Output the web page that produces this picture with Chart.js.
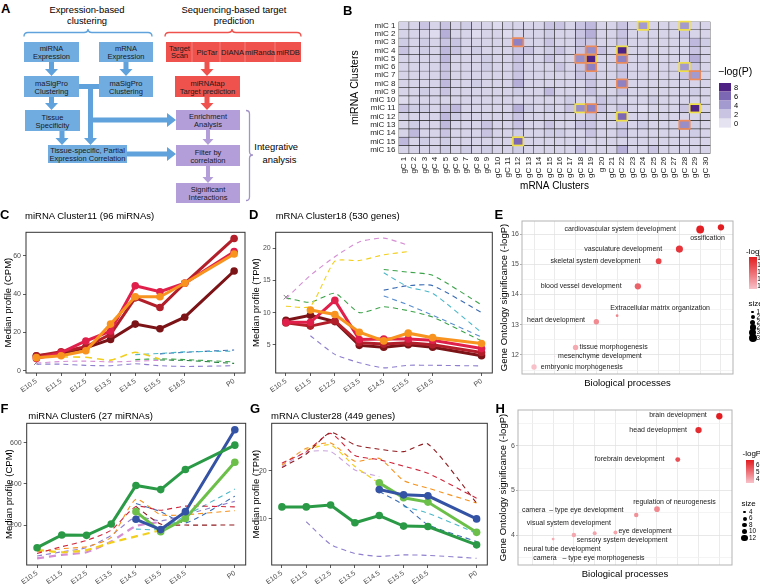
<!DOCTYPE html>
<html><head><meta charset="utf-8"><title>miRNA–mRNA integrative analysis</title>
<script src="https://cdn.jsdelivr.net/npm/chart.js@4.4.1/dist/chart.umd.min.js"></script>
<style>
html,body{margin:0;padding:0;background:#fff;}
#wrap{position:relative;width:760px;height:584px;overflow:hidden;background:#fff;font-family:'Liberation Sans',Arial,sans-serif;}
#wrap canvas{position:absolute;}
.t{position:absolute;white-space:pre;line-height:1;color:#000;}
#flow{position:absolute;left:0;top:0;}
.sw{position:absolute;}
</style></head>
<body><div id="wrap">
<svg id="flow" width="340" height="210" viewBox="0 0 340 210" font-family="Liberation Sans, Arial, sans-serif"></svg>
<canvas id="cB" width="420" height="200" style="left:340px;top:0px"></canvas>
<canvas id="cC" width="250" height="195" style="left:0px;top:200px"></canvas>
<canvas id="cD" width="250" height="195" style="left:250px;top:200px"></canvas>
<canvas id="cE" width="263" height="195" style="left:497px;top:200px"></canvas>
<canvas id="cF" width="250" height="189" style="left:0px;top:395px"></canvas>
<canvas id="cG" width="250" height="189" style="left:250px;top:395px"></canvas>
<canvas id="cH" width="263" height="189" style="left:497px;top:395px"></canvas>
</div>
<script>
// ================= DATA =================
const timeLabels = ['E10.5','E11.5','E12.5','E13.5','E14.5','E15.5','E16.5','P0'];
const timePos = [0,1,2,3,4,5,6,8];

// ---- Panel B: heatmap of -log(P)
const miRNAClusters = ['miC 1','miC 2','miC 3','miC 4','miC 5','miC 6','miC 7','miC 8','miC 9','miC 10','miC 11','miC 12','miC 13','miC 14','miC 15','miC 16'];
const mRNAClusters = ['gC 1','gC 2','gC 3','gC 4','gC 5','gC 6','gC 7','gC 8','gC 9','gC 10','gC 11','gC 12','gC 13','gC 14','gC 15','gC 16','gC 17','gC 18','gC 19','g 20','gC 21','gC 22','gC 23','gC 24','gC 25','gC 26','gC 27','gC 28','gC 29','gC 30'];
const heatLogP = [
 [1,1,2,1,2, 1,1.5,1,1,0.5, 1,1,1,1,2, 2,1,2,2.5,1, 1,2,1,4,1, 1,1,4,1,1],
 [1,1,1,0.5,3, 1,1,0.5,1,1, 0.5,1,1,1,1.5, 1,1,2,3,1, 1,2,1,1,1, 1,1,2,1,1],
 [1.5,1,1.5,1,2, 2,1,1,1,1, 1,5,1,1,2, 1,1,2,2,1, 1,2,1,1,1, 1,1,1,2.5,1.5],
 [2,1,1.5,1,2.5, 2,1,1.5,1,1, 1,2,2,1,1.5, 2,1,2,4.5,2, 1,8,1,1,1, 1,1,1,2,1],
 [1,1,1,1,2.5, 1,1,1,1.5,1, 1,2,1,1,2, 1,1,4.5,8,1, 1,5,1,1,1, 1,1,1,3,1],
 [1,1,1,1,2, 1,1,1,1.5,1, 1,2,1,1,1, 2,1,2,5,1, 1,2,1,1,1, 1,1,4,2,1],
 [1,1,1,1,2, 1,1,1,1,1, 1,2,1,1,1, 1,1,2,2,1, 1,2,1,1,1, 1,1,2,4,1],
 [1,1,1,1,2.5, 1,1,1.5,1,1, 1,3,1,1,1, 1,1,1,2,1, 1,5,1,1,1, 1,1,1,1,1],
 [1,1,1.5,1,2, 1,1,1,1,1, 1,1.5,1,1,2.5, 1,1,1,2,1, 1,2,1,1,1, 1,1,1,1.5,1],
 [0.5,1,1,1,1, 1,1,1,1,1, 1,1,1,1,1, 1,1.5,1,1,2, 1.5,1,1,1,1.5, 1,1,1,1,1],
 [2,1.5,1.5,1,2, 2.5,1,1,1,1, 1,3,1.5,1,1.5, 1,2,4.5,5,2, 1,2,1,0.5,1, 1,1,2,8,1],
 [1,1,1,1,2.5, 1.5,1,1,1,1, 1,2,1,1,1, 1,1,1,2,1, 1,6,1,1,1, 1,1,1,1,1],
 [1,1.5,1,1,2.5, 1,1,1,2,1, 1,2,1,1,2, 1,1,2,2,1, 1,2,1,1.5,1, 1,1,4.5,1.5,1],
 [1,2.5,1,1,2, 1,1,1,2,1, 1,1.5,1,1,1.5, 1.5,1,1,2,1, 1,2,1,1,1, 1,1,1,1.5,1],
 [2.5,1,1.5,1,1.5, 1,1,1,1,1, 1,6,1,1,1, 1,1,1,1,1, 1,1,1,1,1, 1,1,1,1,1],
 [1,1,1,1,1.5, 1,1.5,1,1.5,1, 1,1.5,1,1,1, 1,1,2,1,1, 1,3,1,1,2, 1,1,1,1,1]
];
const sigYellow = [[0,23],[0,27],[3,21],[4,18],[5,27],[10,17],[10,28],[11,21],[14,11]]; // [row, col]
const sigOrange = [[2,11],[3,18],[4,17],[4,21],[5,18],[6,28],[7,21],[10,18],[12,27]];
const heatLegendTicks = [8,6,4,2,0];

// ---- Panel C: miRNA Cluster11
const cTicks = [0,20,40,60];
const cOrange  = [6.8, 7.8, 10.4, 24.3, 38.6, 38.6, 45.6, 60.9];
const cCrimson = [6.4, 9.4, 15.5, 20.7, 44.3, 41.2, 45.6, 62.1];
const cDarkRed = [7.7, 9.9, 12.5, 19.0, 38.0, 33.0, 45.6, 69.0];
const cDarkest = [7.8, 9.0, 12.0, 16.3, 24.3, 21.9, 27.9, 52.0];
const cDashYellow = [null, 7.2, 7.0, 5.5, 9.6, 6.0, null, null];
const cDashTeal   = [null, null, null, null, 8.4, 9.0, 9.8, 10.2];
const cDashBlue   = [null, null, null, null, null, 8.8, 9.6, 10.8];
const cDashGreen  = [null, null, null, null, 5.8, 6.2, 5.8, 4.6];
const cDashDkGreen= [null, null, null, null, null, 5.6, 5.4, 3.8];
const cDashPink   = [4.0, 4.8, 5.0, 4.6, 5.0, 5.4, null, null];
const cDashPurple = [3.4, 3.4, 2.8, 2.6, 3.6, 2.6, 2.2, 2.6];
const cCross = 4.2;

// ---- Panel D: mRNA Cluster18
const dTicks = [5,10,15,20];
const dOrange  = [null, 10.4, 9.7, 6.95, 5.6, 6.8, 6.1, 5.2];
const dCrimson = [8.5, 8.5, 11.9, 5.8, 5.9, 5.9, 5.7, 4.4];
const dDarkRed = [8.4, 7.9, 8.7, 5.3, 5.1, 5.3, 5.0, 3.8];
const dDarkest = [8.8, 9.6, 8.6, 4.9, 4.6, 5.0, 4.6, 3.3];
const dDashPink   = [12.2, 15.8, 18.7, 21.0, 21.6, 20.5, null, null];
const dDashYellow = [11.0, 11.0, 18.0, 18.1, 19.0, 19.5, null, null];
const dDashGreen  = [12.3, 11.6, 13.0, 10.0, 10.9, 10.3, 9.3, 5.6];
const dDashGreen2 = [null, null, null, null, 16.7, 16.3, 15.8, 11.2];
const dDashTeal   = [null, null, null, null, 16.2, 14.0, 13.0, 6.9];
const dDashBlue   = [null, null, null, null, 13.5, 14.2, 14.2, 10.0];
const dDashBlue2  = [null, null, null, null, 12.6, 11.2, 9.6, 6.2];
const dDashLav    = [null, 6.4, 3.5, 2.2, 1.4, 1.8, 1.8, 1.7];
const dCross = 12.4;

// ---- Panel E: GO terms for mRNA Cluster18
const eTerms = ['embryonic morphogenesis','mesenchyme development','tissue morphogenesis','heart development','Extracellular matrix organization','blood vessel development','skeletal system development','vasculature development','cardiovascular system development','ossification'];
const eLogP = [11.6, 11.95, 12.25, 13.1, 13.3, 14.27, 15.1, 15.5, 16.15, 16.22];
const eSize = [24, 16, 24, 24, 18, 27, 25, 30, 33, 27];
const eTicks = [12,13,14,15,16];
const eColorTicks = [16,15,14,13,12];
const eSizeTicks = [18,21,24,27,30,33];

// ---- Panel F: miRNA Cluster6
const fTicks = [200,400,600];
const fDkGreen = [90, 152, 150, 205, 392, 372, 470, 588];
const fBlue    = [null, null, null, null, 228, 178, 265, 663];
const fLtGreen = [null, null, null, null, 265, 168, 232, 505];
const fDashRed    = [62, 95, 125, 175, 290, 272, 292, 288];
const fDashDkRed  = [null, null, null, null, 290, 205, 200, 200];
const fDashOrange = [70, 85, 95, 140, 325, 250, 250, 270];
const fDashYellow = [80, 68, 78, 115, 145, 175, null, null];
const fDashPink   = [38, 55, 68, 120, 195, 215, null, null];
const fDashPurple = [50, 70, 90, 150, 240, 220, 250, 315];
const fDashTeal   = [null, null, null, null, 180, 180, 245, 375];
const fDashBlue   = [null, null, null, null, 305, 265, 210, 340];

// ---- Panel G: mRNA Cluster28
const gTicks = [10,20];
const gDkGreen = [12.5, 12.5, 12.9, 9.2, 10.7, 8.5, 8.4, 4.6];
const gBlue    = [null, null, null, null, 16.1, 15.0, 14.8, 10.0];
const gLtGreen = [null, null, null, null, 17.5, 14.4, 13.5, 7.2];
const gDashDkRed  = [20.7, 23.5, 28.0, 25.4, 24.5, 24.0, 25.6, 13.3];
const gDashRed    = [21.6, 24.0, 27.8, 23.2, 22.3, 21.0, 19.5, 14.3];
const gDashOrange = [21.2, 24.7, 25.8, 22.0, 22.6, 18.0, 16.4, 13.3];
const gDashYellow = [null, 24.4, 25.4, 20.9, 17.4, null, null, null];
const gDashLilac  = [20.9, 23.9, 24.0, 20.2, 18.8, null, null, null];
const gDashBlue   = [null, null, null, null, 15.7, 12.9, 8.8, 5.3];
const gDashTeal   = [null, null, null, null, null, 12.6, 11.2, 7.0];
const gDashLav    = [null, 9.4, 4.7, 2.8, 2.2, 2.5, 2.4, 1.8];

// ---- Panel H: GO terms for mRNA Cluster28
const hTerms = ['camera   \u2013 type eye morphogenesis','neural tube development','visual system development','sensory system development','eye development','camera  \u2013 type eye development','regulation of neurogenesis','forebrain development','head development','brain development'];
const hLogP = [3.48, 3.91, 4.0, 4.04, 4.06, 4.45, 4.58, 5.69, 6.35, 6.66];
const hSize = [2, 4, 7, 6, 6, 7, 10, 8, 12, 12];
const hTicks = [4,5,6];
const hColorTicks = [6,5,4];
const hSizeTicks = [4,6,8,10,12];

// ================= STYLE HELPERS =================
const FONT = "'Liberation Sans', Arial, sans-serif";
Chart.defaults.font.family = FONT;
Chart.defaults.color = '#333';
const BASE = {responsive:false, animation:false, devicePixelRatio:1, events:[]};
const C = {crimson:'#e0204b', darkred:'#b21f2a', darkest:'#7c1417', orange:'#f7931e',
  dkgreen:'#2b9a46', blue:'#3453a5', ltgreen:'#6cc04a',
  dYellow:'#f2cf1d', dTeal:'#4bb8c9', dBlue:'#3c6db4', dGreen:'#3ca34a', dDkGreen:'#1f7a3a',
  dPink:'#d58ed4', dPurple:'#8f7fce', dRed:'#d0253a', dDkRed:'#8f1b1f', dOrange:'#f6921e'};

function mix(a, b, t){ return 'rgb(' + a.map((c,k)=>Math.round(c + (b[k]-c)*t)).join(',') + ')'; }
const heatStops = [[0,[229,227,242]],[2,[200,196,226]],[4,[163,155,207]],[6,[124,103,180]],[8,[78,33,132]]];
function heatColor(v){
  v = Math.max(0, Math.min(8, v));
  for (let i = 1; i < heatStops.length; i++) {
    if (v <= heatStops[i][0]) { const [a,ca] = heatStops[i-1], [b,cb] = heatStops[i]; return mix(ca, cb, (v-a)/(b-a)); }
  }
}
const PINK = [248,196,204], RED = [226,26,30];
const eColor = v => mix(PINK, RED, Math.max(0, Math.min(1, (v-11.5)/(16.3-11.5))));
const hColor = v => mix(PINK, RED, Math.max(0, Math.min(1, (v-3.45)/(6.7-3.45))));
const eRadius = s => Math.sqrt(Math.max(s-16, 0.15)) * 0.95;
const hRadius = s => Math.sqrt(Math.max(s-2, 0.1)) * 1.0;

const framePlugin = {id:'frame', beforeDatasetsDraw(chart, args, o){
  if (!o || !o.color) return;
  const a = chart.chartArea, c = chart.ctx;
  c.save(); c.strokeStyle = o.color; c.lineWidth = o.width || 1;
  c.strokeRect(a.left, a.top, a.right - a.left, a.bottom - a.top);
  c.restore();
}};

function toXY(vals){ return timePos.map((x,i)=>({x:x, y:vals[i]})); }

function lineChart(id, cfg){
  const ds = [];
  cfg.solid.forEach(s => ds.push({data:toXY(s.v), borderColor:s.c, backgroundColor:s.c, borderWidth:3,
    pointRadius:3.8, pointBackgroundColor:s.c, pointBorderWidth:0, tension:0, order:1}));
  cfg.dashed.forEach(s => ds.push({data:toXY(s.v), borderColor:s.c, borderWidth:s.w || 1.1,
    borderDash:(s.w||1.1) > 1.5 ? [7,5] : [5,4], pointRadius:0, tension:0.2, order:2}));
  if (cfg.cross !== undefined) ds.push({data:[{x:timePos[0], y:cfg.cross}], showLine:false, pointStyle:'crossRot',
    pointRadius:3.2, borderColor:'#808080', backgroundColor:'#808080', borderWidth:1, order:3});
  new Chart(document.getElementById(id), {type:'line', data:{datasets:ds}, plugins:[framePlugin], options:{...BASE,
    layout:{padding:cfg.pad},
    plugins:{legend:{display:false}, tooltip:{enabled:false}, frame:{color:'#333', width:1}},
    scales:{
      x:{type:'linear', min:-0.42, max:8.44,
        afterBuildTicks:s=>{ s.ticks = timePos.map(v=>({value:v})); },
        afterFit:s=>{ s.height = cfg.xh; },
        ticks:{callback:(v,i)=>timeLabels[i], autoSkip:false, minRotation:35, maxRotation:35, font:{size:7}, color:'#4d4d4d', padding:1},
        grid:{drawOnChartArea:false, tickLength:3, color:'#333', lineWidth:0.8}, border:{display:false}},
      y:{type:'linear', min:cfg.ymin, max:cfg.ymax,
        afterBuildTicks:s=>{ s.ticks = cfg.yticks.map(v=>({value:v})); },
        afterFit:s=>{ s.width = cfg.yw; },
        ticks:{font:{size:7}, color:'#4d4d4d', padding:2},
        grid:{drawOnChartArea:false, tickLength:3, color:'#333', lineWidth:0.8}, border:{display:false},
        title:{display:true, text:cfg.ytitle, color:'#000', font:{size:9.5}, padding:{top:cfg.ytp, bottom:0}}}
    }}});
}

function goChart(id, cfg){
  const labelPlugin = {id:'goLabels', afterDatasetsDraw(chart){
    const meta = chart.getDatasetMeta(0), c = chart.ctx;
    c.save(); c.font = '7px ' + FONT; c.fillStyle = '#222'; c.textBaseline = 'middle';
    meta.data.forEach((el,i)=>{ const p = cfg.place[i]; c.textAlign = p.a; c.fillText(cfg.terms[i], el.x + p.dx, el.y + p.dy); });
    c.restore();
  }};
  new Chart(document.getElementById(id), {type:'bubble',
    data:{datasets:[{data:cfg.terms.map((t,i)=>({x:i+1, y:cfg.logp[i], r:cfg.rFn(cfg.size[i])})),
      backgroundColor:cfg.logp.map(cfg.colFn), borderWidth:0}]},
    plugins:[framePlugin, labelPlugin],
    options:{...BASE, layout:{padding:cfg.pad},
      plugins:{legend:{display:false}, tooltip:{enabled:false}, frame:{color:'#b3b3b3', width:1}},
      scales:{
        x:{type:'linear', min:cfg.xmin, max:cfg.xmax,
          afterBuildTicks:s=>{ s.ticks = cfg.terms.map((t,i)=>({value:i+1})); },
          afterFit:s=>{ s.height = cfg.xh; },
          ticks:{display:false}, grid:{color:'#e6e6e6', drawTicks:false, lineWidth:0.8}, border:{display:false},
          title:{display:true, text:'Biological processes', color:'#000', font:{size:9.5}, padding:{top:0, bottom:cfg.xtp}}},
        y:{type:'linear', min:cfg.ymin, max:cfg.ymax,
          afterBuildTicks:s=>{ const t=[]; cfg.yticks.forEach(v=>{ t.push({value:v-0.5}); t.push({value:v}); }); t.push({value:cfg.yticks[cfg.yticks.length-1]+0.5}); s.ticks = t.filter(o=>o.value>cfg.ymin && o.value<cfg.ymax); },
          afterFit:s=>{ s.width = cfg.yw; },
          ticks:{callback:v=>cfg.yticks.includes(v) ? String(v) : '', font:{size:7}, color:'#4d4d4d', padding:1, autoSkip:false},
          grid:{color:ctx=>(ctx.tick && cfg.yticks.includes(ctx.tick.value)) ? '#e2e2e2' : '#f1f1f1',
                tickColor:ctx=>(ctx.tick && cfg.yticks.includes(ctx.tick.value)) ? '#999' : 'rgba(0,0,0,0)', tickLength:2, lineWidth:0.8},
          border:{display:false},
          title:{display:true, text:'Gene Ontology significance (-logP)', color:'#000', font:{size:9.5}, padding:{top:cfg.ytp, bottom:0}}}
      }}});
}

// ================= PANEL B =================
const hlPlugin = {id:'hl', afterDatasetsDraw(chart){
  const c = chart.ctx; c.save(); c.lineWidth = 1.7;
  [[sigYellow,'#f0df48'],[sigOrange,'#ec8b5c']].forEach(([list,col])=>{
    c.strokeStyle = col;
    list.forEach(([r,j])=>{
      const p = chart.getDatasetMeta(j).data[r].getProps(['x','y','base','height'], true);
      const l = Math.min(p.x, p.base), w = Math.abs(p.x - p.base);
      c.strokeRect(l, p.y - p.height/2, w, p.height);
    });
  });
  c.restore();
}};
new Chart(document.getElementById('cB'), {type:'bar',
  data:{labels:miRNAClusters, datasets:mRNAClusters.map((lab,j)=>({label:lab, data:miRNAClusters.map(()=>1),
    backgroundColor:heatLogP.map(r=>heatColor(r[j])), borderColor:'#1e1e1e', borderWidth:0.55, borderSkipped:false,
    barPercentage:1, categoryPercentage:1}))},
  plugins:[hlPlugin],
  options:{...BASE, indexAxis:'y', layout:{padding:{top:21.6, right:49.5, left:0, bottom:0}},
    plugins:{legend:{display:false}, tooltip:{enabled:false}},
    scales:{
      x:{type:'linear', stacked:true, min:0, max:30,
        afterBuildTicks:s=>{ s.ticks = mRNAClusters.map((l,i)=>({value:i+0.5})); },
        afterFit:s=>{ s.height = 46.3; },
        ticks:{callback:(v,i)=>mRNAClusters[i], autoSkip:false, minRotation:90, maxRotation:90, font:{size:8}, color:'#222', padding:3},
        grid:{display:false, drawTicks:false}, border:{display:false},
        title:{display:true, text:'mRNA Clusters', color:'#000', font:{size:10}, padding:{top:0, bottom:8}}},
      y:{type:'category', stacked:true, afterFit:s=>{ s.width = 58.5; },
        ticks:{font:{size:8}, color:'#222', padding:3, autoSkip:false},
        grid:{display:false, drawTicks:false}, border:{display:false},
        title:{display:true, text:'miRNA Clusters', color:'#000', font:{size:10.5}, padding:{top:9, bottom:0}}}
    }}});

// ================= LINE PANELS =================
lineChart('cC', {pad:{top:32.3, right:4.3, left:0, bottom:0}, xh:22, yw:26, ymin:-1.2, ymax:72.2, yticks:cTicks,
  ytitle:'Median profile (CPM)', ytp:2.3, cross:cCross,
  solid:[{v:cOrange,c:C.orange},{v:cCrimson,c:C.crimson},{v:cDarkRed,c:C.darkred},{v:cDarkest,c:C.darkest}],
  dashed:[{v:cDashYellow,c:C.dYellow,w:1.6},{v:cDashTeal,c:C.dTeal},{v:cDashBlue,c:C.dBlue},{v:cDashGreen,c:C.dGreen},
    {v:cDashDkGreen,c:C.dDkGreen},{v:cDashPink,c:C.dPink},{v:cDashPurple,c:C.dPurple}]});

lineChart('cD', {pad:{top:32.3, right:7.7, left:0, bottom:0}, xh:22, yw:25.7, ymin:0.6, ymax:22.5, yticks:dTicks,
  ytitle:'Median profile (TPM)', ytp:0.3, cross:dCross,
  solid:[{v:dOrange,c:C.orange},{v:dCrimson,c:C.crimson},{v:dDarkRed,c:C.darkred},{v:dDarkest,c:C.darkest}],
  dashed:[{v:dDashPink,c:C.dPink},{v:dDashYellow,c:C.dYellow},{v:dDashGreen,c:C.dGreen},{v:dDashGreen2,c:C.dGreen},
    {v:dDashTeal,c:C.dTeal},{v:dDashBlue,c:C.dBlue},{v:dDashBlue2,c:'#5a8fd0'},{v:dDashLav,c:C.dPurple}]});

lineChart('cF', {pad:{top:28.3, right:4.3, left:0, bottom:0}, xh:19, yw:26.7, ymin:6, ymax:694, yticks:fTicks,
  ytitle:'Median profile (CPM)', ytp:3.3,
  solid:[{v:fDkGreen,c:C.dkgreen},{v:fBlue,c:C.blue},{v:fLtGreen,c:C.ltgreen}],
  dashed:[{v:fDashRed,c:C.dRed},{v:fDashDkRed,c:C.dDkRed},{v:fDashOrange,c:C.dOrange},{v:fDashYellow,c:C.dYellow,w:2.2},
    {v:fDashPink,c:C.dPink,w:2.2},{v:fDashPurple,c:C.dPurple},{v:fDashTeal,c:C.dTeal},{v:fDashBlue,c:C.dBlue}]});

lineChart('cG', {pad:{top:28.3, right:12.7, left:0, bottom:0}, xh:19, yw:21.7, ymin:0.4, ymax:29.9, yticks:gTicks,
  ytitle:'Median profile (TPM)', ytp:0.3,
  solid:[{v:gBlue,c:C.blue},{v:gLtGreen,c:C.ltgreen},{v:gDkGreen,c:C.dkgreen}],
  dashed:[{v:gDashDkRed,c:C.dDkRed},{v:gDashRed,c:C.dRed},{v:gDashOrange,c:C.dOrange},{v:gDashYellow,c:C.dYellow},
    {v:gDashLilac,c:'#c9a3dc'},{v:gDashBlue,c:C.dBlue},{v:gDashTeal,c:C.dTeal},{v:gDashLav,c:C.dPurple}]});

// ================= GO PANELS =================
goChart('cE', {terms:eTerms, logp:eLogP, size:eSize, rFn:eRadius, colFn:eColor,
  pad:{top:21, right:27, left:0, bottom:0}, xh:21, yw:25, xtp:6.3, ytp:1.3,
  ymin:11.37, ymax:16.43, xmin:0.42, xmax:10.58, yticks:eTicks,
  place:[{a:'left',dx:6.7,dy:0},{a:'left',dx:3.3,dy:0},{a:'left',dx:4,dy:-0.5},{a:'right',dx:-11.3,dy:-1.5},
    {a:'center',dx:43,dy:-7.7},{a:'right',dx:-16.3,dy:0},{a:'right',dx:-18.3,dy:-0.5},{a:'right',dx:-17.3,dy:0},
    {a:'right',dx:-24.3,dy:0},{a:'center',dx:-13.5,dy:10.6}]});

goChart('cH', {terms:hTerms, logp:hLogP, size:hSize, rFn:hRadius, colFn:hColor,
  pad:{top:15, right:28, left:0, bottom:0}, xh:19, yw:21, xtp:4.3, ytp:0.3,
  ymin:3.33, ymax:6.8, xmin:0.31, xmax:10.61, yticks:hTicks,
  place:[{a:'left',dx:1,dy:0},{a:'center',dx:9,dy:10},{a:'center',dx:-5,dy:-12.3},{a:'center',dx:27.5,dy:6.7},
    {a:'left',dx:3,dy:-1.6},{a:'right',dx:-12.7,dy:-4.7},{a:'center',dx:17.5,dy:-7},{a:'right',dx:-13.3,dy:-0.7},
    {a:'right',dx:-11.6,dy:-0.5},{a:'right',dx:-12.6,dy:-1}]});

// ================= HTML TEXT / LEGENDS =================
const wrap = document.getElementById('wrap');
function txt(s, x, base, size, opt){
  opt = opt || {};
  const d = document.createElement('div'); d.className = 't'; d.textContent = s;
  d.style.fontSize = size + 'px'; d.style.top = (base - 0.8465*size) + 'px';
  if (opt.bold) d.style.fontWeight = 'bold';
  if (opt.color) d.style.color = opt.color;
  d.style.left = x + 'px';
  wrap.appendChild(d); return d;
}
function box(x, y, w, h, bg, extra){
  const d = document.createElement('div'); d.className = 'sw';
  d.style.left = x+'px'; d.style.top = y+'px'; d.style.width = w+'px'; d.style.height = h+'px'; d.style.background = bg;
  if (extra) Object.assign(d.style, extra);
  wrap.appendChild(d); return d;
}
// panel letters
txt('A', 1, 13.3, 13, {bold:true});
txt('B', 343, 15, 13, {bold:true});
txt('C', 0, 219.5, 13, {bold:true});
txt('D', 249, 219.5, 13, {bold:true});
txt('E', 494.5, 219.5, 13, {bold:true});
txt('F', 0.5, 413.5, 13, {bold:true});
txt('G', 250, 413.5, 13, {bold:true});
txt('H', 495.5, 413.5, 13, {bold:true});
// chart titles
txt('miRNA Cluster11 (96 miRNAs)', 25, 219.3, 9.5);
txt('mRNA Cluster18 (530 genes)', 275.7, 219.3, 9.5);
txt('miRNA Cluster6 (27 miRNAs)', 28.3, 419.3, 9.5);
txt('mRNA Cluster28 (449 genes)', 271, 419.3, 9.5);

// heatmap legend
txt('\u2212log(P)', 718, 75.3, 10.5);
heatLegendTicks.forEach((v,k)=>{
  box(719, 83.3 + k*9, 12, 9, heatColor(v), {boxShadow:'inset 0 -0.6px 0 rgba(255,255,255,0.8)'});
  txt(String(v), 734, 83.3 + k*9 + 4.5 + 2.6, 7.5);
});

// E legend
txt('-logP', 746, 254.5, 8);
box(749, 256.7, 7.5, 32.6, 'linear-gradient(to bottom,' + eColor(16.22) + ',' + eColor(11.6) + ')');
eColorTicks.forEach(v=>{ const yy = 256.7 + (16.22 - v)/(16.22-11.6)*32.6; txt(String(v), 757.3, yy + 2.2, 6.3); });
txt('size', 748.5, 306.7, 8);
eSizeTicks.forEach((s,k)=>{
  const r = eRadius(s), cy = 312 + k*5.15;
  box(752.7 - r, cy - r, 2*r, 2*r, '#000', {borderRadius:'50%'});
  txt(String(s), 756.5, cy + 2.2, 6.3);
});
// H legend
txt('-logP', 742.5, 457, 8);
box(746, 460, 8, 23.3, 'linear-gradient(to bottom,' + hColor(6.66) + ',' + hColor(3.48) + ')');
hColorTicks.forEach(v=>{ const yy = 460 + (6.66 - v)/(6.66-3.48)*23.3; txt(String(v), 756, yy + 2.2, 6.3); });
txt('size', 741.5, 506.3, 8);
hSizeTicks.forEach((s,k)=>{
  const r = hRadius(s), cy = 512 + k*6.5;
  box(744.5 - r, cy - r, 2*r, 2*r, '#000', {borderRadius:'50%'});
  txt(String(s), 749, cy + 2.2, 6.3);
});

// ================= PANEL A: flowchart (SVG) =================
const svg = document.getElementById('flow'), NS = 'http://www.w3.org/2000/svg';
function el(tag, attrs, text){ const e = document.createElementNS(NS, tag); for (const k in attrs) e.setAttribute(k, attrs[k]); if (text !== undefined) e.textContent = text; svg.appendChild(e); return e; }
const BLUE = '#71ace1', BLUEA = '#5fa2dc', REDB = '#ef524d', PURB = '#b49ed9', PURA = '#b49ed9';
function rbox(x, y, w, h, fill, lines, cx){
  el('rect', {x:x, y:y, width:w, height:h, fill:fill});
  const mx = cx !== undefined ? cx : x + w/2, my = y + h/2;
  if (lines.length === 1) el('text', {x:mx, y:my + 2.7, 'font-size':7.5, 'text-anchor':'middle', fill:'#1a1a1a'}, lines[0]);
  else { el('text', {x:mx, y:my - 1.0, 'font-size':7.5, 'text-anchor':'middle', fill:'#1a1a1a'}, lines[0]);
         el('text', {x:mx, y:my + 7.0, 'font-size':7.5, 'text-anchor':'middle', fill:'#1a1a1a'}, lines[1]); }
}
function vArrow(x, y1, y2, col, s, hw, hl){
  s = s || 5; hw = hw || 13; hl = hl || 7;
  el('polygon', {fill:col, points:[[x-s/2,y1],[x+s/2,y1],[x+s/2,y2-hl],[x+hw/2,y2-hl],[x,y2],[x-hw/2,y2-hl],[x-s/2,y2-hl]].map(p=>p.join(',')).join(' ')});
}
function hArrow(y, x1, x2, col, s, hw, hl){
  s = s || 5; hw = hw || 14; hl = hl || 9;
  el('polygon', {fill:col, points:[[x1,y-s/2],[x1,y+s/2],[x2-hl,y+s/2],[x2-hl,y+hw/2],[x2,y],[x2-hl,y-hw/2],[x2-hl,y-s/2]].map(p=>p.join(',')).join(' ')});
}
// headers
el('text', {x:87, y:12.7, 'font-size':9.4, 'text-anchor':'middle'}, 'Expression-based');
el('text', {x:87, y:24, 'font-size':9.4, 'text-anchor':'middle'}, 'clustering');
el('text', {x:234, y:12.7, 'font-size':9.4, 'text-anchor':'middle'}, 'Sequencing-based target');
el('text', {x:234, y:24, 'font-size':9.4, 'text-anchor':'middle'}, 'prediction');
el('path', {d:'M24,36.5 Q24,32.5 28,32.5 L84,32.5 Q88,32.5 88,29 Q88,32.5 92,32.5 L148,32.5 Q152,32.5 152,36.5', fill:'none', stroke:BLUEA, 'stroke-width':1.4});
el('path', {d:'M165,36.5 Q165,32.5 169,32.5 L228,32.5 Q232,32.5 232,29 Q232,32.5 236,32.5 L297,32.5 Q301,32.5 301,36.5', fill:'none', stroke:REDB, 'stroke-width':1.4});
el('path', {d:'M246,110.5 Q249.5,110.5 249.5,114 L249.5,151.5 Q249.5,155 253,155 Q249.5,155 249.5,158.5 L249.5,197 Q249.5,200.5 246,200.5', fill:'none', stroke:'#a394c8', 'stroke-width':1.3});
el('text', {x:254.3, y:150, 'font-size':9.4}, 'Integrative');
el('text', {x:262.5, y:163, 'font-size':9.4}, 'analysis');
// boxes
rbox(24, 42, 55, 20, BLUE, ['miRNA','Expression']);
rbox(99, 42, 54, 20, BLUE, ['mRNA','Expression']);
el('rect', {x:166, y:42, width:135, height:20, fill:REDB});
[192, 220, 245, 275].forEach(x => el('line', {x1:x, y1:42, x2:x, y2:62, stroke:'rgba(255,255,255,0.35)', 'stroke-width':0.8}));
el('text', {x:179.5, y:51, 'font-size':7.5, 'text-anchor':'middle', fill:'#1a1a1a'}, 'Target');
el('text', {x:179.5, y:58, 'font-size':7.5, 'text-anchor':'middle', fill:'#1a1a1a'}, 'Scan');
el('text', {x:207, y:54.7, 'font-size':7.5, 'text-anchor':'middle', fill:'#1a1a1a'}, 'PicTar');
el('text', {x:232.5, y:54.7, 'font-size':7.5, 'text-anchor':'middle', fill:'#1a1a1a'}, 'DIANA');
el('text', {x:260, y:54.7, 'font-size':7.5, 'text-anchor':'middle', fill:'#1a1a1a'}, 'miRanda');
el('text', {x:288, y:54.7, 'font-size':7.5, 'text-anchor':'middle', fill:'#1a1a1a'}, 'miRDB');
rbox(24, 76, 55, 21, BLUE, ['maSigPro','Clustering']);
rbox(99, 76, 54, 21, BLUE, ['maSigPro','Clustering']);
rbox(175, 76, 65, 21, REDB, ['miRNAtap','Target prediction']);
rbox(25, 110, 55, 21, BLUE, ['Tissue','Specificity']);
rbox(176, 110, 64, 20, PURB, ['Enrichment','Analysis']);
rbox(48, 145, 79, 18, BLUE, ['Tissue-specific, Partial','Expression Correlation']);
rbox(176, 145, 64, 21, PURB, ['Filter by','correlation']);
rbox(176, 183, 64, 20, PURB, ['Significant','Interactions']);
// arrows
vArrow(51.5, 62, 76, BLUEA);
vArrow(126, 62, 76, BLUEA);
vArrow(51.5, 97, 110, BLUEA);
vArrow(62, 131, 145, BLUEA);
el('rect', {x:79, y:84, width:20, height:5, fill:BLUEA});
vArrow(90.5, 84, 145, BLUEA);
hArrow(120, 93, 176, BLUEA);
hArrow(154, 127, 176, BLUEA);
vArrow(207, 62, 76, REDB);
vArrow(207, 97, 110, REDB);
vArrow(208, 130, 145, PURA, 4, 11, 6);
vArrow(208, 166, 183, PURA, 4, 11, 6);
</script></body></html>
